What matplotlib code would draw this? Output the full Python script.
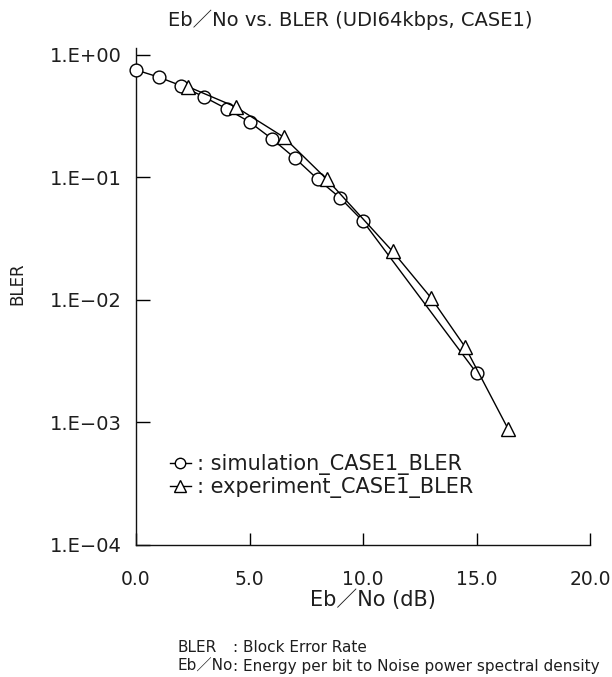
import matplotlib
matplotlib.use("Agg")
import matplotlib.pyplot as plt
from matplotlib.lines import Line2D
from matplotlib.ticker import FixedLocator, NullLocator

plt.rcParams['font.family'] = ['DejaVu Sans', 'Noto Sans CJK JP']

sim_x = [0, 1, 2, 3, 4, 5, 6, 7, 8, 9, 10, 15]
sim_y = [0.755, 0.66, 0.56, 0.454, 0.363, 0.284, 0.206, 0.144, 0.097, 0.068, 0.044, 0.00254]

exp_x = [2.3, 4.4, 6.5, 8.4, 11.3, 13.0, 14.5, 16.4]
exp_y = [0.55, 0.376, 0.214, 0.097, 0.025, 0.0104, 0.00413, 0.00088]

x_ticks = [0, 5, 10, 15, 20]
x_tick_labels = ["0.0", "5.0", "10.0", "15.0", "20.0"]
y_ticks = [1e0, 1e-1, 1e-2, 1e-3, 1e-4]
y_tick_labels = ["1.E+00", "1.E\u221201", "1.E\u221202", "1.E\u221203", "1.E\u221204"]

title = "Eb\uff0fNo vs. BLER (UDI64kbps, CASE1)"
xlabel = "Eb\uff0fNo (dB)"
ylabel = "BLER"
sim_label = ": simulation_CASE1_BLER"
exp_label = ": experiment_CASE1_BLER"
note_keys = ["BLER", "Eb\uff0fNo"]
note_vals = [": Block Error Rate", ": Energy per bit to Noise power spectral density"]

W, H = 612, 677
tc = "#1e1e1e"
fig = plt.figure(figsize=(W / 100, H / 100), dpi=100)
ax_left, ax_right, ax_bottom, ax_top = 136, 590, 545, 48
ax = fig.add_axes([ax_left / W, 1 - ax_bottom / H,
                   (ax_right - ax_left) / W, (ax_bottom - ax_top) / H])

ax.plot(sim_x, sim_y, color="black", lw=1.0, marker="o", ms=9.2,
        mfc="white", mec="black", mew=1.0, clip_on=False, zorder=3)
ax.plot(exp_x, exp_y, color="black", lw=1.0, marker="^", ms=9.5,
        mfc="white", mec="black", mew=1.0, clip_on=False, zorder=3)

ax.set_yscale("log")
ax.set_xlim(0, 20)
ax.set_ylim(1e-4, 10 ** 0.057)
ax.yaxis.set_major_locator(FixedLocator(y_ticks))
ax.yaxis.set_minor_locator(NullLocator())
ax.set_yticklabels(y_tick_labels)
ax.set_xticks(x_ticks)
ax.set_xticklabels(x_tick_labels)

for s in ["top", "right"]:
    ax.spines[s].set_visible(False)
for s in ["left", "bottom"]:
    ax.spines[s].set_linewidth(1.0)
    ax.spines[s].set_color("#111111")

ax.tick_params(axis="x", direction="in", length=8.5, width=1.0, pad=18,
               labelsize=13.5, labelcolor=tc)
ax.tick_params(axis="y", direction="in", length=10, width=1.0, pad=10,
               labelsize=14, labelcolor=tc)

fig.text(350 / W, 1 - 20 / H, title, fontsize=14, color=tc,
         ha="center", va="center")
fig.text(373 / W, 1 - 600 / H, xlabel, fontsize=15, color=tc,
         ha="center", va="center")
fig.text(17 / W, 1 - 284 / H, ylabel, rotation=90, fontsize=12, color=tc,
         ha="center", va="center")

handles = [
    Line2D([], [], color="black", lw=1.0, marker="o", ms=7.5, mfc="white", mec="black"),
    Line2D([], [], color="black", lw=1.0, marker="^", ms=8, mfc="white", mec="black"),
]
leg = ax.legend(handles, [sim_label, exp_label], loc="upper left",
                bbox_to_anchor=(170 / W, 1 - 454 / H),
                bbox_transform=fig.transFigure, frameon=False, fontsize=15,
                handlelength=1.0, handletextpad=0.3, labelspacing=0.1,
                borderaxespad=0, borderpad=0)
for t in leg.get_texts():
    t.set_color(tc)

note_y = [647, 666]
for k, v, y in zip(note_keys, note_vals, note_y):
    fig.text(177 / W, 1 - y / H, k, fontsize=11, color=tc, va="center")
    fig.text(233 / W, 1 - y / H, v, fontsize=11, color=tc, va="center")

fig.savefig("out.png", dpi=100)
